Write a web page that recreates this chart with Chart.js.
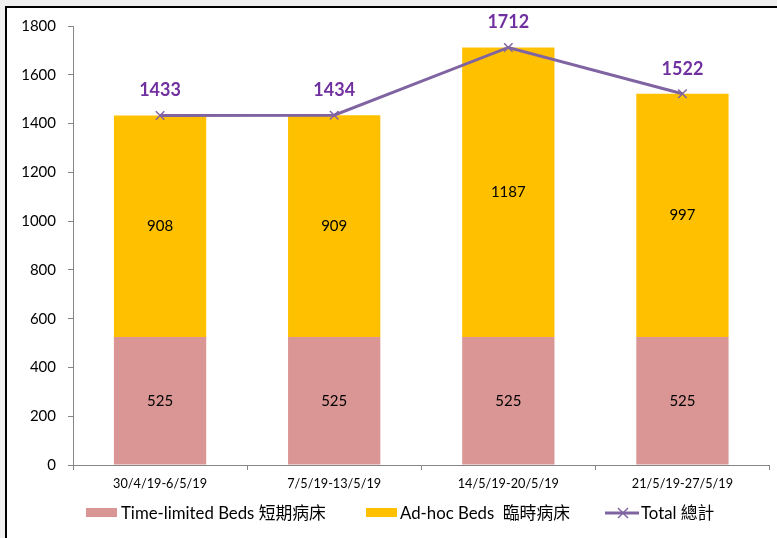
<!DOCTYPE html>
<html><head><meta charset="utf-8">
<script src="https://cdn.jsdelivr.net/npm/chart.js@4.4.1/dist/chart.umd.min.js"></script>
<style>
html,body{margin:0;padding:0;background:#f0f0f0;width:777px;height:538px;overflow:hidden;}
#frame{position:absolute;left:5px;top:6px;width:800px;height:560px;border-left:2px solid #000;border-top:2px solid #000;background:#fff;}
#wrap{position:absolute;left:0;top:0;width:770px;height:530px;}
.li{position:absolute;top:496px;height:18px;font:16.8px Lato,"Noto Sans CJK TC",sans-serif;color:#000;white-space:nowrap;line-height:18px;}
.sw{position:absolute;top:4px;width:31px;height:9px;}
.tx{position:absolute;top:0;}
</style></head>
<body>
<div id="frame">
  <div id="wrap"><canvas id="c" width="770" height="530"></canvas></div>
  <div class="li" style="left:79px"><span class="sw" style="left:0;background:#D99694"></span><span class="tx" style="left:35px">Time-limited Beds 短期病床</span></div>
  <div class="li" style="left:359px"><span class="sw" style="left:0;background:#FFC000"></span><span class="tx" style="left:34px">Ad-hoc Beds&nbsp; 臨時病床</span></div>
  <div class="li" style="left:598px"><svg class="sw" style="left:0;top:2px;width:34px;height:14px" viewBox="0 0 34 14"><line x1="0" y1="7" x2="34" y2="7" stroke="#8064A2" stroke-width="3"/><line x1="13" y1="2" x2="23" y2="12" stroke="#8064A2" stroke-width="1.5"/><line x1="23" y1="2" x2="13" y2="12" stroke="#8064A2" stroke-width="1.5"/></svg><span class="tx" style="left:36px">Total 總計</span></div>
</div>
<script>
const categories = ["30/4/19-6/5/19", "7/5/19-13/5/19", "14/5/19-20/5/19", "21/5/19-27/5/19"];
const timeLimitedBeds = [525, 525, 525, 525];
const adHocBeds = [908, 909, 1187, 997];
const totalBeds = [1433, 1434, 1712, 1522];
const yTicks = [0, 200, 400, 600, 800, 1000, 1200, 1400, 1600, 1800];

const FONT = "Lato, 'Noto Sans CJK TC', sans-serif";

const valueLabels = {
  id: 'valueLabels',
  afterDatasetsDraw(chart) {
    const ctx = chart.ctx;
    chart.data.datasets.forEach((ds, i) => {
      const meta = chart.getDatasetMeta(i);
      meta.data.forEach((el, j) => {
        const v = ds.data[j];
        ctx.save();
        ctx.textAlign = 'center';
        ctx.textBaseline = 'middle';
        if (ds.type === 'line') {
          ctx.font = "bold 18px " + FONT;
          ctx.fillStyle = '#7030A0';
          ctx.fillText(String(v), el.x, el.y - 25);
        } else {
          ctx.font = "15px " + FONT;
          ctx.fillStyle = '#000';
          ctx.fillText(String(v), el.x, (el.y + el.base) / 2);
        }
        ctx.restore();
      });
    });
  }
};

new Chart(document.getElementById('c'), {
  data: {
    labels: categories,
    datasets: [
      { type: 'line', label: 'Total 總計', data: totalBeds, stack: 'total', order: 0,
        borderColor: '#8064A2', borderWidth: 3, backgroundColor: '#8064A2',
        pointStyle: 'crossRot', pointRadius: 6, pointBorderColor: '#8064A2', pointBorderWidth: 1.5,
        tension: 0, fill: false },
      { type: 'bar', label: 'Time-limited Beds 短期病床', data: timeLimitedBeds, stack: 'beds', order: 1,
        backgroundColor: '#D99694', categoryPercentage: 1, barPercentage: 0.53 },
      { type: 'bar', label: 'Ad-hoc Beds 臨時病床', data: adHocBeds, stack: 'beds', order: 2,
        backgroundColor: '#FFC000', categoryPercentage: 1, barPercentage: 0.53 }
    ]
  },
  options: {
    responsive: false,
    animation: false,
    layout: { padding: { top: 18, right: 4, bottom: 35, left: 0 } },
    plugins: { legend: { display: false }, tooltip: { enabled: false } },
    scales: {
      x: {
        stacked: true,
        grid: { display: true, offset: true, drawOnChartArea: false, drawTicks: true, tickLength: 5, color: '#868686' },
        border: { color: '#868686', width: 1 },
        ticks: { font: { family: FONT, size: 12.7 }, color: '#000', padding: 6, maxRotation: 0 },
        afterFit(s) { s.height = 38; }
      },
      y: {
        stacked: true,
        min: 0, max: 1800,
        afterBuildTicks(s) { s.ticks = yTicks.map(v => ({ value: v })); },
        grid: { display: true, drawOnChartArea: false, drawTicks: true, tickLength: 5, color: '#868686' },
        border: { color: '#868686', width: 1 },
        ticks: { font: { family: FONT, size: 15 }, color: '#000', padding: 12, callback: v => String(v) },
        afterFit(s) { s.width = 66; s.paddingTop = 9; s.paddingBottom = 9; }
      }
    }
  },
  plugins: [valueLabels]
});
</script>
</body></html>
